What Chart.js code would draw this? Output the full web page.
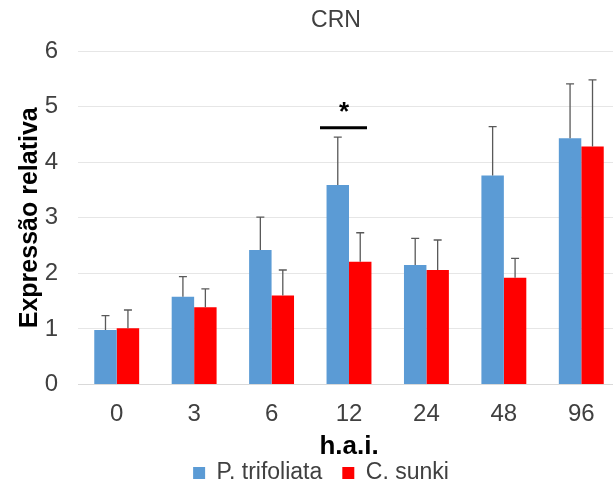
<!DOCTYPE html>
<html>
<head>
<meta charset="utf-8">
<script src="https://cdn.jsdelivr.net/npm/chart.js@4"></script>
<style>
  html, body { margin: 0; padding: 0; background: #fff; overflow: hidden; }
  #wrap { width: 613px; height: 483px; overflow: hidden; }
</style>
</head>
<body>
<div id="wrap"><canvas id="chart" width="620" height="483"></canvas></div>
<script>
// horas apos inoculacao
var hours = ['0', '3', '6', '12', '24', '48', '96'];
var trifoliata = [0.98, 1.58, 2.42, 3.59, 2.15, 3.76, 4.43];
var trifoliataErr = [0.26, 0.36, 0.59, 0.86, 0.48, 0.88, 0.98];
var sunki = [1.01, 1.39, 1.60, 2.21, 2.06, 1.92, 4.28];
var sunkiErr = [0.33, 0.33, 0.46, 0.52, 0.54, 0.35, 1.20];
var yTicks = [0, 1, 2, 3, 4, 5, 6];
// diferenca significativa
var sigIndex = 3;
var sigLine = 4.62;
var sigStar = 5.0;

var errors = [trifoliataErr, sunkiErr];

var errorBars = {
    id: 'errorBars',
    afterDatasetsDraw: function(chart) {
        var ctx = chart.ctx;
        var y = chart.scales.y;
        ctx.save();
        ctx.strokeStyle = '#595959';
        ctx.lineWidth = 1.3;
        for (var d = 0; d < chart.data.datasets.length; d++) {
            var meta = chart.getDatasetMeta(d);
            var vals = chart.data.datasets[d].data;
            for (var i = 0; i < meta.data.length; i++) {
                var bar = meta.data[i];
                var top = y.getPixelForValue(vals[i] + errors[d][i]);
                ctx.beginPath();
                ctx.moveTo(bar.x, bar.y);
                ctx.lineTo(bar.x, top);
                ctx.moveTo(bar.x - 4, top);
                ctx.lineTo(bar.x + 4, top);
                ctx.stroke();
            }
        }
        ctx.restore();
    }
};

var extras = {
    id: 'extras',
    afterDraw: function(chart) {
        var ctx = chart.ctx;
        var x = chart.scales.x;
        var y = chart.scales.y;
        var cx = x.getPixelForValue(sigIndex);
        ctx.save();
        ctx.strokeStyle = '#000';
        ctx.lineWidth = 3;
        ctx.beginPath();
        ctx.moveTo(cx - 29, y.getPixelForValue(sigLine));
        ctx.lineTo(cx + 18, y.getPixelForValue(sigLine));
        ctx.stroke();
        ctx.fillStyle = '#000';
        ctx.font = 'bold 26px "Liberation Sans", Arial, sans-serif';
        ctx.textAlign = 'center';
        ctx.textBaseline = 'middle';
        ctx.fillText('*', cx - 5, y.getPixelForValue(sigStar) + 6);
        // titulo
        ctx.fillStyle = '#404040';
        ctx.font = '23px "Liberation Sans", Arial, sans-serif';
        ctx.fillText('CRN', 336, 21);
        ctx.restore();
    }
};

var font = '"Liberation Sans", Arial, sans-serif';

new Chart(document.getElementById('chart'), {
    type: 'bar',
    data: {
        labels: hours,
        datasets: [
            { label: 'P. trifoliata', data: trifoliata, backgroundColor: '#5B9BD5' },
            { label: 'C. sunki', data: sunki, backgroundColor: '#FF0000' }
        ]
    },
    options: {
        responsive: false,
        animation: false,
        categoryPercentage: 0.58,
        barPercentage: 1.0,
        layout: { padding: { left: 22, top: 51, right: 0, bottom: -11.5 } },
        scales: {
            x: {
                grid: { display: false, drawTicks: false },
                border: { color: '#D9D9D9' },
                ticks: { color: '#404040', font: { family: font, size: 24 }, padding: 15 },
                title: { display: true, text: 'h.a.i.', color: '#000', font: { family: font, size: 26, weight: 'bold' }, padding: { top: 0, bottom: -21 } },
                afterFit: function(s) { s.height = 57; }
            },
            y: {
                min: 0,
                max: 6,
                afterBuildTicks: function(s) { s.ticks = yTicks.map(function(v) { return { value: v }; }); },
                grid: { color: '#E6E6E6', drawTicks: false },
                border: { display: false },
                ticks: { color: '#404040', font: { family: font, size: 24 }, padding: 20 },
                title: { display: true, text: 'Expressão relativa', color: '#000', font: { family: font, size: 25, weight: 'bold' }, padding: { top: -7, bottom: 0 } },
                afterFit: function(s) { s.width = 56; }
            }
        },
        plugins: {
            legend: {
                position: 'bottom',
                labels: { color: '#404040', font: { family: font, size: 23 }, boxWidth: 12, boxHeight: 12, padding: 20 }
            },
            tooltip: { enabled: false }
        }
    },
    plugins: [errorBars, extras]
});
</script>
</body>
</html>
